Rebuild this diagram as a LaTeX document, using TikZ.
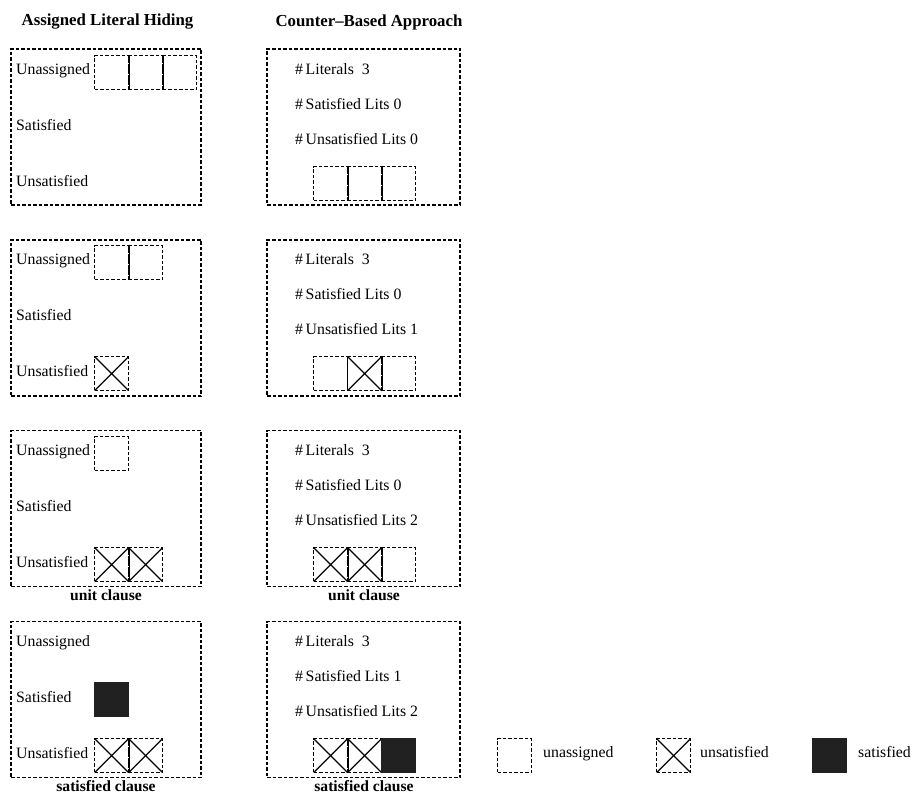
\documentclass[tikz,border=0pt]{standalone}
\usepackage{fontspec}
\setmainfont{Liberation Serif}
\tikzset{
  lw/.style={line width=1.2pt},
  dsh/.style={lw, dash pattern=on 3.5pt off 2pt},
  panel/.style={draw, dsh, minimum width=#1, minimum height=156pt, inner sep=0pt},
  panel/.default=190pt,
  lbl/.style={anchor=mid west, inner sep=0pt, font=\fontsize{15.8}{18}\selectfont},
  ttl/.style={inner sep=0pt, font=\fontsize{16.8}{19}\selectfont\bfseries},
  captxt/.style={inner sep=0pt, font=\fontsize{15.6}{18}\selectfont\bfseries},
  cellU/.style={draw, dsh, minimum width=34pt, minimum height=34pt, inner sep=0pt, anchor=north west},
  cellX/.style={cellU, path picture={\draw[lw, solid] (path picture bounding box.north west) -- (path picture bounding box.south east) (path picture bounding box.south west) -- (path picture bounding box.north east);}},
  cellS/.style={fill=black!87, draw=black!87, lw, solid, minimum width=34pt, minimum height=34pt, inner sep=0pt, anchor=north west},
  dvd/.style={line width=1pt, solid}
}
\begin{document}
\begin{tikzpicture}[x=1pt,y=-1pt]
\useasboundingbox (0,0) rectangle (913,794);

% titles
\node[ttl] (t1) at (107.5,22) {Assigned Literal Hiding};
\node[ttl] (t2) at (369,22) {Counter--Based Approach};

% ===== Panel 1 (T=49)
\node[panel] (p1l) at (106,127) {};
\node[panel=193pt] (p1r) at (363.5,127) {};
\node[lbl] (p1la) at (16,72) {Unassigned};
\node[lbl] (p1lb) at (16,128) {Satisfied};
\node[lbl] (p1lc) at (16,184) {Unsatisfied};
\node[lbl] (p1ra) at (295,72) {\#\,Literals\ \ 3};
\node[lbl] (p1rb) at (295,107) {\#\,Satisfied Lits\ 0};
\node[lbl] (p1rc) at (295,142) {\#\,Unsatisfied Lits\ 0};
\node[cellU] (c1a) at (94,55) {};
\node[cellU] (c1b) at (128,55) {};
\node[cellU] (c1c) at (162,55) {};
\draw[dvd] (c1a.north east) -- (c1a.south east) (c1b.north east) -- (c1b.south east);
\node[cellU] (d1a) at (313,166) {};
\node[cellU] (d1b) at (347,166) {};
\node[cellU] (d1c) at (381,166) {};
\draw[dvd] (d1a.north east) -- (d1a.south east) (d1b.north east) -- (d1b.south east);

% ===== Panel 2 (T=239)
\node[panel] (p2l) at (106,318) {};
\node[panel=193pt] (p2r) at (363.5,318) {};
\node[lbl] (p2la) at (16,262) {Unassigned};
\node[lbl] (p2lb) at (16,318) {Satisfied};
\node[lbl] (p2lc) at (16,374) {Unsatisfied};
\node[lbl] (p2ra) at (295,262) {\#\,Literals\ \ 3};
\node[lbl] (p2rb) at (295,297) {\#\,Satisfied Lits\ 0};
\node[lbl] (p2rc) at (295,332) {\#\,Unsatisfied Lits\ 1};
\node[cellU] (c2a) at (94,245) {};
\node[cellU] (c2b) at (128,245) {};
\draw[dvd] (c2a.north east) -- (c2a.south east);
\node[cellX] (c2x) at (94,356) {};
\node[cellU] (d2a) at (313,356) {};
\node[cellX] (d2b) at (347,356) {};
\node[cellU] (d2c) at (381,356) {};
\draw[dvd] (d2b.north west) -- (d2b.south west) (d2b.north east) -- (d2b.south east);

% ===== Panel 3 (T=430)
\node[panel] (p3l) at (106,508.5) {};
\node[panel=193pt] (p3r) at (363.5,508.5) {};
\node[lbl] (p3la) at (16,453) {Unassigned};
\node[lbl] (p3lb) at (16,509) {Satisfied};
\node[lbl] (p3lc) at (16,565) {Unsatisfied};
\node[lbl] (p3ra) at (295,453) {\#\,Literals\ \ 3};
\node[lbl] (p3rb) at (295,488) {\#\,Satisfied Lits\ 0};
\node[lbl] (p3rc) at (295,523) {\#\,Unsatisfied Lits\ 2};
\node[cellU] (c3a) at (94,436) {};
\node[cellX] (c3x) at (94,547) {};
\node[cellX] (c3y) at (128,547) {};
\draw[dvd] (c3x.north east) -- (c3x.south east);
\node[cellX] (d3a) at (313,547) {};
\node[cellX] (d3b) at (347,547) {};
\node[cellU] (d3c) at (381,547) {};
\draw[dvd] (d3a.north east) -- (d3a.south east) (d3b.north east) -- (d3b.south east);
\node[captxt] (u1) at (106,595) {unit clause};
\node[captxt] (u2) at (364,595) {unit clause};

% ===== Panel 4 (T=621)
\node[panel] (p4l) at (106,699.5) {};
\node[panel=193pt] (p4r) at (363.5,699.5) {};
\node[lbl] (p4la) at (16,644) {Unassigned};
\node[lbl] (p4lb) at (16,700) {Satisfied};
\node[lbl] (p4lc) at (16,756) {Unsatisfied};
\node[lbl] (p4ra) at (295,644) {\#\,Literals\ \ 3};
\node[lbl] (p4rb) at (295,679) {\#\,Satisfied Lits\ 1};
\node[lbl] (p4rc) at (295,714) {\#\,Unsatisfied Lits\ 2};
\node[cellS] (c4s) at (94,682) {};
\node[cellX] (c4x) at (94,738) {};
\node[cellX] (c4y) at (128,738) {};
\draw[dvd] (c4x.north east) -- (c4x.south east);
\node[cellX] (d4a) at (313,738) {};
\node[cellX] (d4b) at (347,738) {};
\node[cellS] (d4c) at (381,738) {};
\draw[dvd] (d4a.north east) -- (d4a.south east);
\node[captxt] (s1) at (106,786) {satisfied clause};
\node[captxt] (s2) at (364,786) {satisfied clause};

% ===== Legend
\node[cellU] (k1) at (497,738) {};
\node[lbl] (k1t) at (543,755) {unassigned};
\node[cellX] (k2) at (656,738) {};
\node[lbl] (k2t) at (700,755) {unsatisfied};
\node[cellS] (k3) at (812,738) {};
\node[lbl] (k3t) at (858,755) {satisfied};
\end{tikzpicture}
\end{document}
